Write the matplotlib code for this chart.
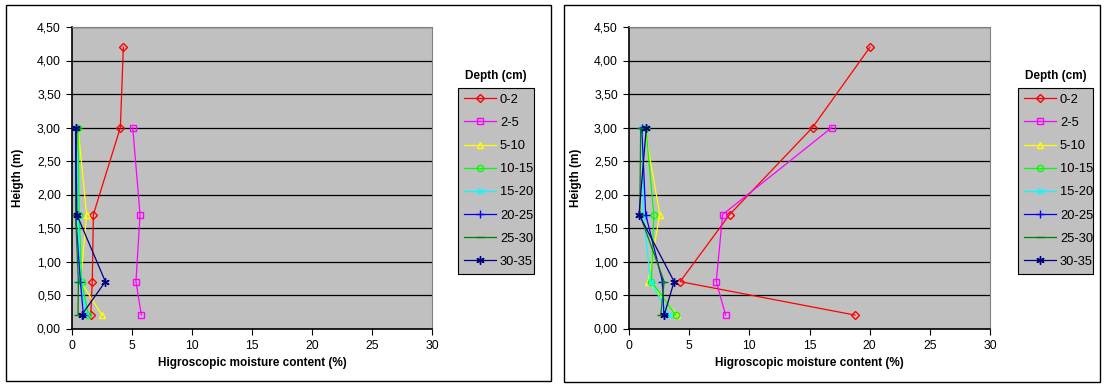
import matplotlib
matplotlib.use("Agg")
import matplotlib.pyplot as plt
from matplotlib.patches import Rectangle
from matplotlib.ticker import FuncFormatter

plt.rcParams['font.family'] = ['Liberation Sans', 'DejaVu Sans']

depths = ["0-2", "2-5", "5-10", "10-15", "15-20", "20-25", "25-30", "30-35"]
heights5 = [4.2, 3.0, 1.7, 0.7, 0.2]
heights4 = [3.0, 1.7, 0.7, 0.2]

# Left chart moisture (%)
left_0_2 = [4.28, 4.03, 1.78, 1.69, 1.56]
left_2_5 = [5.06, 5.67, 5.33, 5.78]
left_5_10 = [0.5, 1.22, 0.72, 2.5]
left_10_15 = [0.5, 0.6, 0.8, 1.36]
left_15_20 = [0.4, 0.5, 0.7, 1.2]
left_20_25 = [0.3, 0.3, 0.7, 0.95]
left_25_30 = [0.4, 0.3, 0.53, 0.5]
left_30_35 = [0.33, 0.4, 2.78, 0.8]

# Right chart moisture (%)
right_0_2 = [20.03, 15.25, 8.36, 4.25, 18.78]
right_2_5 = [16.86, 7.78, 7.25, 8.03]
right_5_10 = [1.3, 2.56, 1.58, 4.03]
right_10_15 = [1.4, 2.06, 1.86, 3.89]
right_15_20 = [1.1, 1.2, 1.8, 3.33]
right_20_25 = [1.06, 1.39, 2.78, 2.9]
right_25_30 = [0.97, 0.9, 2.92, 2.64]
right_30_35 = [1.44, 0.83, 3.75, 2.92]

left_series = [left_0_2, left_2_5, left_5_10, left_10_15, left_15_20, left_20_25, left_25_30, left_30_35]
right_series = [right_0_2, right_2_5, right_5_10, right_10_15, right_15_20, right_20_25, right_25_30, right_30_35]

colors = ["#FF0000", "#FF00FF", "#FFFF00", "#00FF00", "#00FFFF", "#0000FF", "#008000", "#000080"]
markers = ["D", "s", "^", "o", "x", "+", "_", (6, 2, 0)]
msizes = [4, 4.5, 5, 4.5, 5, 6, 6, 6]

W, H = 1104, 385
fig = plt.figure(figsize=(W / 100, H / 100), dpi=100)

def px(x0, y0, x1, y1):
    return [x0 / W, 1 - y1 / H, (x1 - x0) / W, (y1 - y0) / H]

# panel borders
for (x0, y0, x1, y1) in [(6, 5, 551, 381), (564, 5, 1100, 382)]:
    fig.patches.append(Rectangle((x0 / W, 1 - y1 / H), (x1 - x0) / W, (y1 - y0) / H,
                                 transform=fig.transFigure, fill=False,
                                 edgecolor="black", linewidth=1.0))

fmt = FuncFormatter(lambda v, p: f"{v:.2f}".replace(".", ","))

def draw(rect, series, leg_box, ylab_x):
    ax = fig.add_axes(px(*rect))
    ax.set_facecolor("#C0C0C0")
    for i, (name, vals) in enumerate(zip(depths, series)):
        hs = heights5 if len(vals) == 5 else heights4
        mfc = "none" if markers[i] in ("D", "s", "^", "o") else colors[i]
        ax.plot(vals, hs, color=colors[i], marker=markers[i], markersize=msizes[i],
                markerfacecolor=mfc, markeredgecolor=colors[i], linewidth=0.9,
                markeredgewidth=1.0, label=name, clip_on=False, zorder=3)
    ax.set_xlim(0, 30)
    ax.set_ylim(0, 4.5)
    ax.set_xticks(range(0, 31, 5))
    ax.set_yticks([i * 0.5 for i in range(10)])
    ax.yaxis.set_major_formatter(fmt)
    ax.grid(axis="y", color="black", linewidth=0.9, zorder=1)
    ax.set_axisbelow(True)
    ax.tick_params(direction="out", length=4, width=0.8, labelsize=8.8, pad=4)
    for s in ["left", "bottom"]:
        ax.spines[s].set_linewidth(1.2)
        ax.spines[s].set_color("black")
    for s in ["top", "right"]:
        ax.spines[s].set_color("#808080")
        ax.spines[s].set_linewidth(0.8)
    x0, y0, x1, y1 = rect
    fig.text(((x0 + x1) / 2) / W, 1 - 363 / H, "Higroscopic moisture content (%)",
             fontsize=8.5, fontweight="bold", ha="center", va="center")
    fig.text(ylab_x / W, 1 - ((y0 + y1) / 2) / H, "Heigth (m)", rotation=90,
             fontsize=8.5, fontweight="bold", ha="center", va="center")
    lx0, ly0, lx1, ly1 = leg_box
    fig.text(((lx0 + lx1) / 2) / W, 1 - 76 / H, "Depth (cm)", fontsize=8.5,
             fontweight="bold", ha="center", va="center")
    leg = ax.legend(loc="upper left", bbox_to_anchor=px(lx0, ly0, lx1, ly1),
                    bbox_transform=fig.transFigure, mode="expand",
                    fontsize=9.3, frameon=True, fancybox=False,
                    edgecolor="black", facecolor="#C0C0C0", framealpha=1,
                    handlelength=2.5, handletextpad=0.3, labelspacing=0.86,
                    borderpad=0.45, borderaxespad=0)
    leg.get_frame().set_linewidth(0.8)
    return ax

draw((72, 27, 432, 328.5), left_series, (458, 88, 534, 271), 18)
draw((629, 27, 990, 328.5), right_series, (1018, 88, 1093, 271), 576)

fig.savefig("out.png", dpi=100)
